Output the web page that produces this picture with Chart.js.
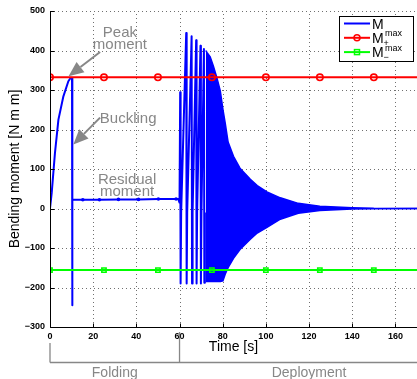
<!DOCTYPE html>
<html>
<head>
<meta charset="utf-8">
<script src="https://cdn.jsdelivr.net/npm/chart.js@4.4.0/dist/chart.umd.min.js"></script>
<style>
  html, body { margin: 0; padding: 0; background: #fff; }
  #wrap { width: 417px; height: 379px; }
</style>
</head>
<body>
<div id="wrap"><canvas id="momentChart" width="417" height="379"></canvas></div>
<script>
// Bending moment M over time
// folding: rise to the peak, buckling drop, back up to the residual moment
const riseTime  = [0, 0.8, 2.3, 3.9, 6.2, 8.5, 9.6, 10.2, 10.3, 10.4];
const riseValue = [0, 40, 141, 225, 284, 322, 331, 330, -245, 22];
const residualTime  = [15.2, 22.9, 31.7, 41, 50.2, 58.4, 59.4, 60.0];
const residualValue = [22, 22, 23, 23, 24, 24, 24, 15];
// the sampled points marked on the residual line
const dotTime  = [15.2, 22.9, 31.7, 41, 50.2, 58.4];
const dotValue = [22, 22, 23, 23, 24, 24];
// deployment: separate bursts first ...
const burstTime   = [60.3, 63.1, 65.6, 67.7, 69.7, 71.3];
const burstTop    = [294, 444, 436, 426, 412, 404];
const burstBottom = [-190, -190, -190, -190, -190, -188];
const burstBase   = -10;
// ... then the dense decaying oscillation, given by its envelope
const envTime  = [72.2, 72.7, 74.2, 75.7, 77.3, 78.9, 80.1, 81.2, 82.5, 85, 88, 92.8, 96, 100.5, 106.7, 115, 125, 140, 150, 170];
const envUpper = [400, 395, 384, 360, 331, 297, 251, 215, 168, 132, 102, 74, 58, 42, 27, 13, 6, 2, 0.5, 0];
const envLower = [-185, -185, -185, -185, -185, -185, -183, -166, -150, -126, -104, -78, -62, -48, -27, -12, -5, -1.5, -0.5, 0];
// limit moments
const limitTime = [0, 25, 50, 75, 100, 125, 150, 170];
const mPlusMax  = [332, 332, 332, 332, 332, 332, 332, 332];
const mMinusMax = [-156, -156, -156, -156, -156, -156, -156, -156];
// axes
const timeRange = [0, 170], timeStep = 20;
const momentRange = [-300, 500], momentStep = 100;

const FONT = '"Liberation Sans", Arial, Helvetica, sans-serif';
const GRAY = '#878787';
Chart.defaults.font.family = FONT;

const pts = (xs, ys) => xs.map((x, i) => ({x: x, y: ys[i]}));

// M as one polyline: rise, residual, then each burst as an up/down stroke
const mPoints = pts(riseTime, riseValue).concat(pts(residualTime, residualValue));
burstTime.forEach((t, i) => {
    mPoints.push({x: t, y: burstTop[i]});
    mPoints.push({x: t + 0.2, y: burstBottom[i]});
    mPoints.push({x: t + 0.45, y: burstBase});
});

// text annotations, placed in data units
const notes = [
    {lines: ['Peak', 'moment'], t: 32.4, v: 445},
    {lines: ['Buckling'], t: 36.2, v: 226},
    {lines: ['Residual', 'moment'], t: 35.7, v: 73}
];
const arrows = [
    {from: [23.2, 396], to: [8.6, 335]},
    {from: [23.2, 230], to: [10.8, 162]}
];
const phases = [
    {label: 'Folding', from: 0, to: 60},
    {label: 'Deployment', from: 60, to: 180}
];

function drawArrow(ctx, x0, y0, x1, y1) {
    const a = Math.atan2(y1 - y0, x1 - x0);
    const len = 15, half = 6.5;
    const bx = x1 - len * Math.cos(a), by = y1 - len * Math.sin(a);
    ctx.beginPath();
    ctx.moveTo(x0, y0);
    ctx.lineTo(bx, by);
    ctx.stroke();
    ctx.beginPath();
    ctx.moveTo(x1, y1);
    ctx.lineTo(bx + half * Math.sin(a), by - half * Math.cos(a));
    ctx.lineTo(bx - half * Math.sin(a), by + half * Math.cos(a));
    ctx.closePath();
    ctx.fill();
}

const overlay = {
    id: 'overlay',
    // dotted grid under the data
    beforeDatasetsDraw(chart) {
        const {ctx, chartArea: area, scales: {x, y}} = chart;
        ctx.save();
        ctx.strokeStyle = '#707070';
        ctx.lineWidth = 1;
        ctx.setLineDash([1, 3]);
        ctx.beginPath();
        x.ticks.forEach(tk => {
            const px = Math.round(x.getPixelForValue(tk.value)) + 0.5;
            if (tk.value === timeRange[0]) return;
            ctx.moveTo(px, area.bottom);
            ctx.lineTo(px, area.top);
        });
        y.ticks.forEach(tk => {
            const py = Math.round(y.getPixelForValue(tk.value)) + 0.5;
            if (tk.value === momentRange[0]) return;
            ctx.moveTo(area.left, py);
            ctx.lineTo(area.right, py);
        });
        ctx.stroke();
        ctx.restore();
    },
    afterDraw(chart) {
        const {ctx, chartArea: area, scales: {x, y}} = chart;
        ctx.save();

        // axis lines and inward tick marks, matlab style
        ctx.strokeStyle = '#000';
        ctx.lineWidth = 1;
        ctx.beginPath();
        const left = Math.round(area.left) + 0.5, bottom = Math.round(area.bottom) + 0.5;
        ctx.moveTo(left, area.top);
        ctx.lineTo(left, bottom);
        ctx.lineTo(area.right, bottom);
        x.ticks.forEach(tk => {
            const px = Math.round(x.getPixelForValue(tk.value)) + 0.5;
            ctx.moveTo(px, bottom);
            ctx.lineTo(px, bottom - 4);
        });
        y.ticks.forEach(tk => {
            const py = Math.round(y.getPixelForValue(tk.value)) + 0.5;
            ctx.moveTo(left, py);
            ctx.lineTo(left + 4, py);
        });
        ctx.stroke();

        // annotations
        ctx.fillStyle = GRAY;
        ctx.strokeStyle = GRAY;
        ctx.font = '15px ' + FONT;
        ctx.textAlign = 'center';
        ctx.textBaseline = 'middle';
        notes.forEach(n => {
            const cx = x.getPixelForValue(n.t), cy = y.getPixelForValue(n.v);
            n.lines.forEach((s, i) => ctx.fillText(s, cx, cy + i * 12.5));
        });
        ctx.lineWidth = 2;
        arrows.forEach(a => drawArrow(ctx,
            x.getPixelForValue(a.from[0]), y.getPixelForValue(a.from[1]),
            x.getPixelForValue(a.to[0]), y.getPixelForValue(a.to[1])));

        // folding / deployment bracket under the axis
        const lineY = 362.5;
        ctx.lineWidth = 1.3;
        ctx.beginPath();
        ctx.moveTo(x.getPixelForValue(0), lineY);
        ctx.lineTo(chart.width, lineY);
        ctx.moveTo(x.getPixelForValue(0), 343);
        ctx.lineTo(x.getPixelForValue(0), lineY);
        ctx.moveTo(x.getPixelForValue(60), area.bottom + 5);
        ctx.lineTo(x.getPixelForValue(60), lineY);
        ctx.stroke();
        ctx.font = '14px ' + FONT;
        ctx.textBaseline = 'alphabetic';
        phases.forEach(p => {
            const cx = (x.getPixelForValue(p.from) + x.getPixelForValue(p.to)) / 2;
            ctx.fillText(p.label, cx, 377);
        });

        // legend
        const lw = 74, lh = 45;
        const lx = Math.round(area.right - 78), ly = Math.round(area.top + 5);
        ctx.fillStyle = '#fff';
        ctx.fillRect(lx, ly, lw, lh);
        ctx.strokeStyle = '#000';
        ctx.lineWidth = 1;
        ctx.strokeRect(lx + 0.5, ly + 0.5, lw, lh);
        const rows = [
            {color: '#0000ff', marker: null, sub: null},
            {color: '#ff0000', marker: 'circle', sub: '+'},
            {color: '#00ff00', marker: 'rect', sub: '\u2212'}
        ];
        rows.forEach((r, i) => {
            const ry = ly + 7.5 + i * 14.3;
            ctx.strokeStyle = r.color;
            ctx.lineWidth = 2;
            ctx.beginPath();
            ctx.moveTo(lx + 5, ry);
            ctx.lineTo(lx + 31, ry);
            ctx.stroke();
            ctx.lineWidth = 1.5;
            if (r.marker === 'circle') {
                ctx.beginPath();
                ctx.arc(lx + 18, ry, 3, 0, Math.PI * 2);
                ctx.stroke();
            } else if (r.marker === 'rect') {
                ctx.strokeRect(lx + 15.5, ry - 2.5, 5, 5);
            }
            ctx.fillStyle = '#000';
            ctx.textAlign = 'left';
            ctx.textBaseline = 'alphabetic';
            ctx.font = '14px ' + FONT;
            ctx.fillText('M', lx + 33, ry + 5);
            if (r.sub) {
                ctx.font = '9px ' + FONT;
                ctx.fillText('max', lx + 46, ry - 1.5);
                ctx.fillText(r.sub, lx + 44.5, ry + 8);
            }
        });
        ctx.restore();
    }
};

const tickFont = {size: 9, weight: 'bold', family: FONT};
const minus = v => String(v).replace('-', '\u2212');

new Chart(document.getElementById('momentChart'), {
    type: 'line',
    data: {
        datasets: [
            {
                label: 'M+max',
                data: pts(limitTime, mPlusMax),
                borderColor: '#ff0000',
                borderWidth: 2,
                pointStyle: 'circle',
                pointRadius: c => (c.raw && c.raw.x > 160 ? 0 : 3.2),
                pointBorderWidth: 1.6,
                pointBorderColor: '#ff0000',
                pointBackgroundColor: 'rgba(255,0,0,0)'
            },
            {
                label: 'M-max',
                data: pts(limitTime, mMinusMax),
                borderColor: '#00ff00',
                borderWidth: 2,
                pointStyle: 'rect',
                pointRadius: c => (c.raw && c.raw.x > 160 ? 0 : 3),
                pointBorderWidth: 1.6,
                pointBorderColor: '#00ff00',
                pointBackgroundColor: 'rgba(0,255,0,0)'
            },
            {
                label: 'M',
                data: mPoints,
                borderColor: '#0000ff',
                borderWidth: 2,
                borderJoinStyle: 'round',
                pointRadius: 0
            },
            {
                label: 'samples',
                data: pts(dotTime, dotValue),
                showLine: false,
                pointRadius: 1.8,
                pointBackgroundColor: '#0000ff',
                pointBorderColor: '#0000ff',
                pointBorderWidth: 0
            },
            {
                label: 'upper',
                data: pts(envTime, envUpper),
                borderColor: '#0000ff',
                borderWidth: 1.5,
                pointRadius: 0,
                fill: false
            },
            {
                label: 'lower',
                data: pts(envTime, envLower),
                borderColor: '#0000ff',
                backgroundColor: '#0000ff',
                borderWidth: 1.5,
                pointRadius: 0,
                fill: '-1'
            }
        ]
    },
    options: {
        responsive: false,
        animation: false,
        layout: {autoPadding: false, padding: {top: 11, right: 0, bottom: 23, left: 0}},
        plugins: {legend: {display: false}, tooltip: {enabled: false}},
        scales: {
            x: {
                type: 'linear',
                min: timeRange[0],
                max: timeRange[1],
                bounds: 'data',
                offset: false,
                afterBuildTicks: s => { s.ticks = s.ticks.filter(t => t.value % timeStep === 0); },
                ticks: {stepSize: timeStep, color: '#000', font: tickFont, padding: 4, maxRotation: 0, autoSkip: false},
                grid: {display: false, drawTicks: false, offset: false},
                border: {display: false},
                title: {display: true, text: 'Time [s]', color: '#000', font: {size: 14, family: FONT}, padding: {top: 0, bottom: 0}},
                afterFit: s => { s.height = 29; s.paddingLeft = 0; s.paddingRight = 0; }
            },
            y: {
                type: 'linear',
                min: momentRange[0],
                max: momentRange[1],
                ticks: {stepSize: momentStep, color: '#000', font: tickFont, padding: 5, callback: minus},
                grid: {display: false, drawTicks: false},
                border: {display: false},
                title: {display: true, text: 'Bending moment [N m m]', color: '#000', font: {size: 14, family: FONT}, padding: {top: 7, bottom: 0}},
                afterFit: s => { s.width = 50; }
            }
        }
    },
    plugins: [overlay]
});
</script>
</body>
</html>
